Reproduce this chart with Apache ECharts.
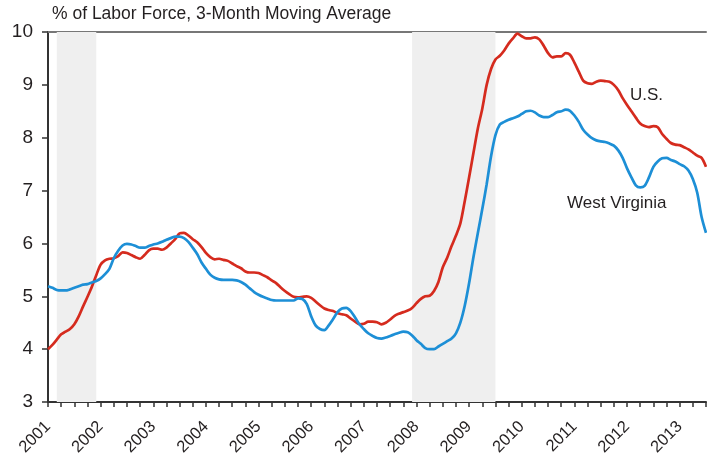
<!DOCTYPE html>
<html>
<head>
<meta charset="utf-8">
<script src="https://cdn.jsdelivr.net/npm/echarts@6/dist/echarts.min.js"></script>
<style>
  html, body { margin: 0; padding: 0; background: #fff; }
  #chart { width: 707px; height: 461px; }
</style>
</head>
<body>
<div id="chart"></div>
<script>
// monthly, Jan 2001 .. Jul 2013
const years = ['2001', '2002', '2003', '2004', '2005', '2006', '2007', '2008', '2009', '2010', '2011', '2012', '2013']
const months = []
years.forEach(y => {
  for (let m = 1; m <= 12; m++) months.push(y + '-' + String(m).padStart(2, '0'))
})
months.length = 151

const usRate = [
  4.0, 4.08, 4.18, 4.28, 4.33, 4.38, 4.47, 4.62, 4.81, 4.99, 5.18, 5.4,
  5.6, 5.68, 5.71, 5.72, 5.76, 5.83, 5.82, 5.78, 5.74, 5.71, 5.78, 5.87,
  5.9, 5.9, 5.88, 5.92, 6.0, 6.08, 6.19, 6.2, 6.15, 6.08, 6.02, 5.93,
  5.82, 5.74, 5.7, 5.71, 5.69, 5.67, 5.62, 5.57, 5.53, 5.47, 5.45, 5.45,
  5.44, 5.4, 5.36, 5.3, 5.25, 5.17, 5.1, 5.04, 4.99, 4.98, 4.99, 5.0,
  4.97, 4.9, 4.83, 4.77, 4.74, 4.72, 4.68, 4.66, 4.64, 4.58, 4.52, 4.47,
  4.48, 4.52, 4.52, 4.51, 4.47, 4.5, 4.56, 4.63, 4.67, 4.7, 4.73, 4.78,
  4.87, 4.95, 5.0, 5.01, 5.1, 5.27, 5.55, 5.73, 5.95, 6.15, 6.38, 6.8,
  7.25, 7.72, 8.18, 8.55, 9.0, 9.3, 9.48, 9.55, 9.65, 9.78, 9.88, 9.97,
  9.92, 9.88, 9.88, 9.9, 9.86, 9.74, 9.6, 9.52, 9.54, 9.54, 9.6, 9.57,
  9.42, 9.25, 9.08, 9.03, 9.02, 9.06, 9.08, 9.07, 9.06, 9.0, 8.9, 8.75,
  8.62, 8.5, 8.38, 8.27, 8.22, 8.2, 8.22, 8.2, 8.07, 7.98, 7.9, 7.87,
  7.86, 7.82, 7.78, 7.72, 7.66, 7.62, 7.45
]

const wvRate = [
  5.19, 5.16, 5.12, 5.11, 5.11, 5.13, 5.16, 5.19, 5.22, 5.23, 5.26, 5.29,
  5.34, 5.42, 5.52, 5.72, 5.86, 5.96, 5.99, 5.98, 5.95, 5.92, 5.92, 5.95,
  5.98, 6.0, 6.03, 6.07, 6.1, 6.13, 6.13, 6.1, 6.03, 5.92, 5.8, 5.64,
  5.52, 5.41, 5.35, 5.32, 5.31, 5.31, 5.31, 5.3, 5.27, 5.22, 5.15, 5.08,
  5.03, 4.99, 4.96, 4.93, 4.92, 4.92, 4.92, 4.92, 4.92, 4.96, 4.95, 4.85,
  4.62, 4.45, 4.38, 4.36, 4.45, 4.57, 4.7, 4.77, 4.78, 4.72, 4.6, 4.47,
  4.38, 4.3, 4.25, 4.21, 4.2, 4.22, 4.25, 4.28, 4.31, 4.33, 4.32, 4.26,
  4.17, 4.1, 4.02, 4.0, 4.0, 4.05, 4.1, 4.15, 4.2, 4.3, 4.5, 4.82,
  5.25, 5.75, 6.2, 6.65, 7.12, 7.65, 8.05, 8.25, 8.3, 8.34, 8.37, 8.4,
  8.45, 8.5, 8.51, 8.48, 8.42, 8.39, 8.39, 8.43, 8.48, 8.5, 8.53, 8.51,
  8.42, 8.3, 8.15, 8.06, 7.99, 7.95, 7.93, 7.92, 7.89, 7.85, 7.76, 7.62,
  7.42, 7.25, 7.1, 7.06, 7.09, 7.25, 7.45, 7.55, 7.61, 7.62, 7.58, 7.55,
  7.5, 7.46, 7.38, 7.22, 6.96, 6.5, 6.2
]

// recessions (start month, end month)
const recessions = [['2001-03', '2001-12'], ['2007-12', '2009-07']]

const font = '"Liberation Sans", Arial, Helvetica, sans-serif'
const textColor = '#231f20'

const chart = echarts.init(document.getElementById('chart'))

chart.setOption({
  backgroundColor: '#fff',
  animation: false,
  grid: { left: 48, right: 1, top: 32, bottom: 59 },
  graphic: [
    { type: 'text', left: 52, top: 5, style: { text: '% of Labor Force, 3-Month Moving Average', font: '17.5px ' + font, fill: textColor } },
    { type: 'text', left: 630, top: 87, style: { text: 'U.S.', font: '17px ' + font, fill: textColor } },
    { type: 'text', left: 567, top: 195, style: { text: 'West Virginia', font: '17px ' + font, fill: textColor } }
  ],
  xAxis: [{
    type: 'category',
    data: months,
    boundaryGap: false,
    axisLine: { lineStyle: { color: '#333', width: 2 } },
    axisTick: { length: 5, interval: i => i % 3 === 0, lineStyle: { color: '#333', width: 1.5 } },
    axisLabel: {
      interval: i => i % 12 === 0,
      formatter: v => v.slice(0, 4),
      rotate: 45,
      margin: 22,
      color: textColor,
      fontSize: 16.5,
      fontFamily: font
    },
    splitLine: { show: false }
  }, {
    type: 'category',
    data: months,
    position: 'top',
    boundaryGap: false,
    axisLine: { lineStyle: { color: '#777', width: 2 } },
    axisTick: { show: false },
    axisLabel: { show: false }
  }],
  yAxis: {
    type: 'value',
    min: 3,
    max: 10,
    interval: 1,
    axisLine: { show: true, lineStyle: { color: '#333', width: 2 } },
    axisTick: { show: true, length: 6, lineStyle: { color: '#333', width: 1.5 } },
    axisLabel: { color: textColor, fontSize: 19, fontFamily: font, margin: 15 },
    splitLine: { show: false }
  },
  series: [{
    name: 'U.S.',
    type: 'line',
    data: usRate,
    symbol: 'none',
    smooth: 0.3,
    lineStyle: { color: '#d52b1e', width: 2.7 },
    z: 3,
    markArea: {
      silent: true,
      itemStyle: { color: '#efefef' },
      data: recessions.map(r => [{ xAxis: r[0] }, { xAxis: r[1] }])
    }
  }, {
    name: 'West Virginia',
    type: 'line',
    data: wvRate,
    symbol: 'none',
    smooth: 0.3,
    lineStyle: { color: '#1d8fd6', width: 2.7 },
    z: 3
  }]
})
</script>
</body>
</html>
